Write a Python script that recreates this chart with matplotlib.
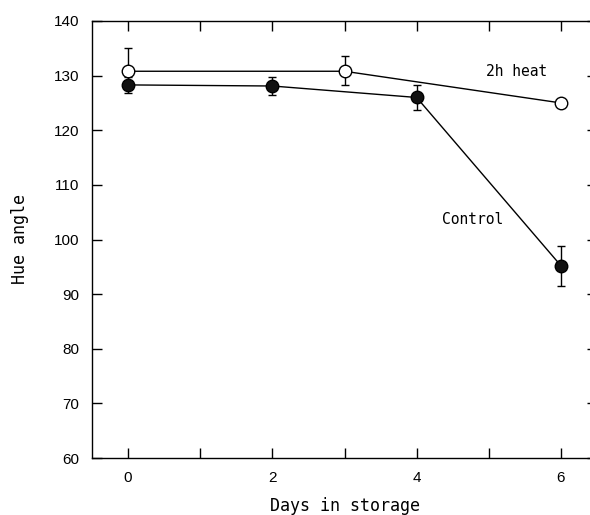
import numpy as np
import matplotlib.pyplot as plt

days_heat = [0, 3, 6]
heat = [130.8, 130.8, 125.0]
heat_err_lo = [0.0, 2.6, 0.0]
heat_err_hi = [4.2, 2.8, 0.0]

days_ctrl = [0, 2, 4, 6]
ctrl = [128.3, 128.1, 126.0, 95.2]
ctrl_err = [1.5, 1.7, 2.3, 3.7]

xticks = [0, 1, 2, 3, 4, 5, 6]
xticklabels = ['0', '', '2', '', '4', '', '6']
yticks = [60, 70, 80, 90, 100, 110, 120, 130, 140]

fig = plt.figure(figsize=(5.9, 5.15), dpi=100)
ax = fig.add_axes([92/590, 57/515, 505/590, 437/515])

ax.errorbar(days_heat, heat, yerr=[heat_err_lo, heat_err_hi], fmt='-o', color='black',
            mfc='white', mec='black', ms=9, lw=1, elinewidth=1, capsize=3, zorder=3)
ax.errorbar(days_ctrl, ctrl, yerr=ctrl_err, fmt='-o', color='black',
            mfc='#111111', mec='black', ms=9, lw=1, elinewidth=1, capsize=3, zorder=3)

ax.text(5.39, 130.8, '2h heat', fontsize=10.5, family='DejaVu Sans Mono',
        ha='center', va='center')
ax.text(4.77, 103.7, 'Control', fontsize=10.5, family='DejaVu Sans Mono',
        ha='center', va='center')

ax.set_xlim(-0.5, 6.5)
ax.set_ylim(60, 140)
ax.set_xticks(xticks)
ax.set_xticklabels(xticklabels)
ax.set_yticks(yticks)
ax.tick_params(direction='in', length=7, width=1, top=True, right=True,
               labelsize=11, pad=9)
for lab in ax.get_xticklabels() + ax.get_yticklabels():
    lab.set_family('Liberation Sans')
for s in ax.spines.values():
    s.set_linewidth(1)

ax.set_xlabel('Days in storage', fontsize=12, family='DejaVu Sans Mono', labelpad=9)
ax.set_ylabel('Hue angle', fontsize=12, family='DejaVu Sans Mono', labelpad=18)

fig.savefig('out.png', dpi=100)
